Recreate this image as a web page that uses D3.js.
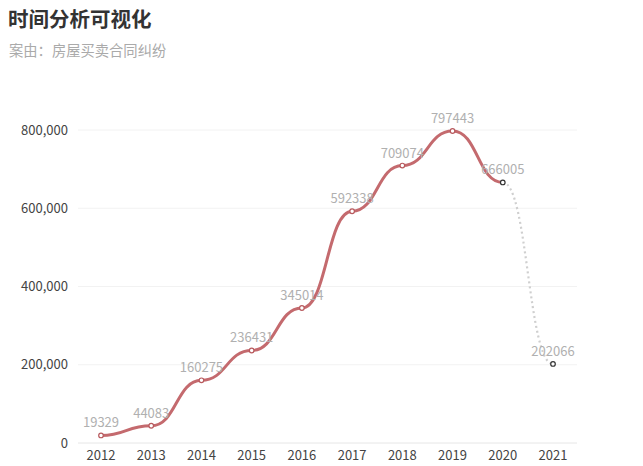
<!DOCTYPE html>
<html><head><meta charset="utf-8">
<script src="https://cdn.jsdelivr.net/npm/d3@7"></script>
<style>body{margin:0;background:#fff}svg{display:block}text{font-family:"Noto Sans CJK SC","Noto Sans",sans-serif}</style>
</head><body>
<svg id="c" width="643" height="466"></svg>
<script>
const years = ["2012","2013","2014","2015","2016","2017","2018","2019","2020","2021"];
const values = [19329,44083,160275,236431,345014,592338,709074,797443,666005,202066];
const yTicks = [0,200000,400000,600000,800000];
const title = "时间分析可视化";
const subtitle = "案由：房屋买卖合同纠纷";

const svg = d3.select("#c");
const x = d3.scalePoint().domain(years).range([101,553]);
const y = d3.scaleLinear().domain([0,800000]).range([443,130]);

svg.append("text").attr("x",8).attr("y",27).attr("font-size",20.5).attr("font-weight","bold").attr("fill","#333").text(title);
svg.append("text").attr("x",9).attr("y",56).attr("font-size",14.3).attr("fill","#aaa").text(subtitle);

// grid
svg.append("g").selectAll("line").data(yTicks).join("line")
  .attr("x1",78).attr("x2",577).attr("y1",d=>y(d)).attr("y2",d=>y(d))
  .attr("stroke",d=>d===0?"#e6e6e6":"#f2f2f2").attr("stroke-width",1);

const fmt = d3.format(",");
svg.append("g").selectAll("text").data(yTicks).join("text")
  .attr("x",68).attr("y",d=>y(d)).attr("dy","0.35em").attr("text-anchor","end")
  .attr("font-size",13).attr("fill","#444").text(d=>fmt(d));

svg.append("g").selectAll("text").data(years).join("text")
  .attr("x",d=>x(d)).attr("y",460).attr("text-anchor","middle")
  .attr("font-size",13).attr("fill","#444").text(d=>d);

const pts = years.map((yr,i)=>({yr,v:values[i]}));
const line = d3.line().x(d=>x(d.yr)).y(d=>y(d.v)).curve(d3.curveBumpX);

svg.append("path").attr("d",line(pts.slice(8,10))).attr("fill","none")
  .attr("stroke","#cfcfcf").attr("stroke-width",2.2).attr("stroke-dasharray","2,3");
svg.append("path").attr("d",line(pts.slice(0,9))).attr("fill","none")
  .attr("stroke","#c46a6e").attr("stroke-width",3);

svg.append("g").selectAll("circle").data(pts).join("circle")
  .attr("cx",d=>x(d.yr)).attr("cy",d=>y(d.v)).attr("r",2.3)
  .attr("fill","#fff").attr("stroke",(d,i)=>i>=8?"#333":"#b85a5e").attr("stroke-width",1.2);

svg.append("g").selectAll("text").data(pts).join("text")
  .attr("x",d=>x(d.yr)).attr("y",d=>y(d.v)-8).attr("text-anchor","middle")
  .attr("font-size",13).attr("fill","#b0b0b0").text(d=>d.v);
</script>
</body></html>
